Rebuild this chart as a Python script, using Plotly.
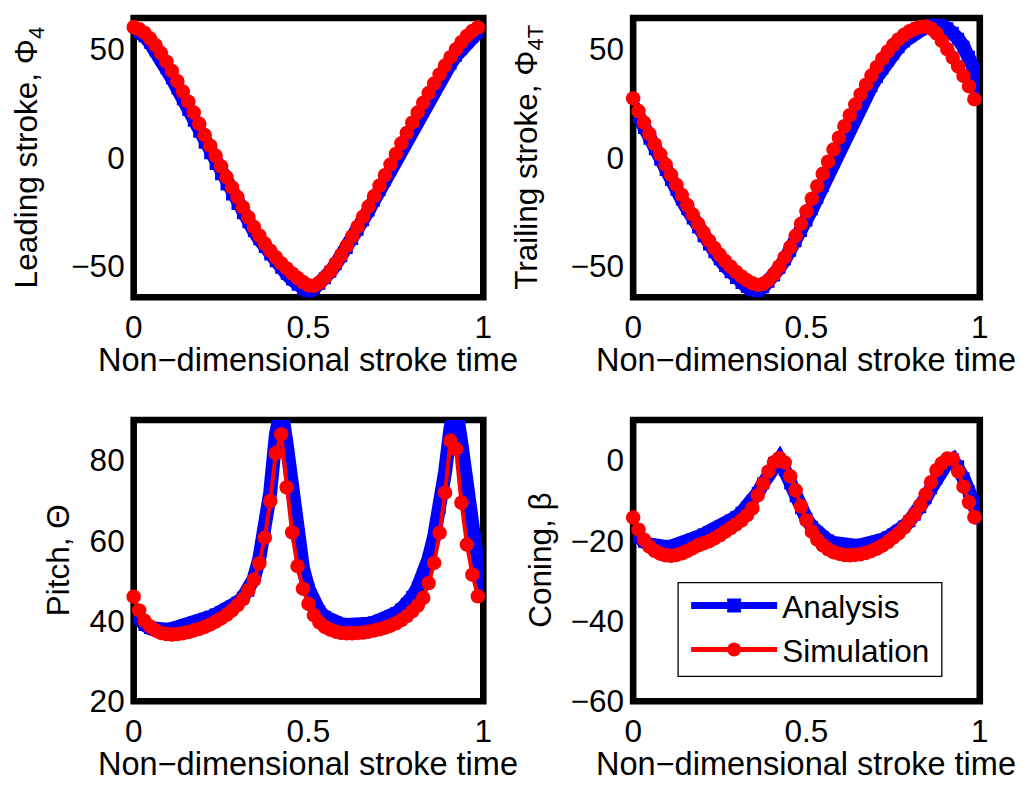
import plotly.graph_objects as go

# ---------------- data ----------------
T_ANA = [0.0000, 0.0156, 0.0313, 0.0469, 0.0625, 0.0781, 0.0938, 0.1094, 0.1250, 0.1406,
         0.1563, 0.1719, 0.1875, 0.2031, 0.2188, 0.2344, 0.2500, 0.2656, 0.2813, 0.2969,
         0.3125, 0.3281, 0.3438, 0.3594, 0.3750, 0.3906, 0.4063, 0.4219, 0.4375, 0.4531,
         0.4688, 0.4844, 0.5000, 0.5156, 0.5313, 0.5469, 0.5625, 0.5781, 0.5938, 0.6094,
         0.6250, 0.6406, 0.6563, 0.6719, 0.6875, 0.7031, 0.7188, 0.7344, 0.7500, 0.7656,
         0.7813, 0.7969, 0.8125, 0.8281, 0.8438, 0.8594, 0.8750, 0.8906, 0.9063, 0.9219,
         0.9375, 0.9531, 0.9688, 0.9844, 1.0000]
T_SIM = T_ANA[:64]

LEAD_ANA = [59.5, 58.2, 56.0, 53.0, 49.5, 45.6, 41.3, 36.7, 31.9, 27.0,
            22.0, 17.0, 11.9, 6.9, 2.0, -2.9, -7.7, -12.4, -17.0, -21.4,
            -25.7, -29.9, -33.9, -37.7, -41.3, -44.7, -47.9, -50.9, -53.7, -56.3,
            -58.7, -60.8, -62.3, -60.5, -58.3, -55.7, -52.7, -49.3, -45.6, -41.7,
            -37.6, -33.3, -28.9, -24.4, -19.8, -15.1, -10.3, -5.5, -0.7, 4.1,
            8.9, 13.6, 18.2, 22.7, 27.1, 31.4, 35.6, 39.6, 43.4, 47.0,
            50.3, 53.3, 55.9, 58.0, 59.6]
LEAD_SIM = [60.3, 59.3, 57.6, 55.0, 51.9, 48.3, 44.3, 40.0, 35.3, 30.5,
            25.8, 20.8, 15.6, 10.4, 5.5, 0.8, -4.0, -9.0, -13.8, -18.2,
            -22.9, -27.6, -32.0, -36.0, -39.7, -43.0, -46.0, -48.8, -51.2, -53.5,
            -55.6, -57.5, -59.0, -59.3, -57.8, -55.4, -52.4, -48.9, -45.0, -40.8,
            -36.4, -31.9, -27.3, -22.6, -17.8, -13.0, -8.1, -3.2, 1.7, 6.6,
            11.4, 16.1, 20.8, 25.3, 29.8, 34.2, 38.4, 42.5, 46.4, 50.0,
            53.3, 56.2, 58.5, 60.1]

TRAIL_ANA = [24.0, 18.8, 13.7, 8.7, 3.8, -1.0, -5.7, -10.3, -14.9, -19.4,
             -23.8, -28.1, -32.3, -36.3, -40.1, -43.7, -47.0, -50.1, -53.0, -55.6,
             -57.9, -59.8, -61.1, -61.7, -59.9, -57.4, -54.4, -50.9, -47.1, -43.0,
             -38.6, -33.9, -29.0, -23.9, -18.6, -13.2, -7.7, -2.2, 3.3, 8.7,
             13.9, 19.0, 23.9, 28.6, 33.0, 37.2, 41.1, 44.7, 48.0, 51.0,
             53.6, 55.8, 57.7, 59.2, 60.3, 61.0, 61.3, 60.9, 59.7, 57.7,
             54.9, 51.2, 46.6, 40.5, 32.0]
TRAIL_SIM = [27.3, 21.5, 16.2, 11.0, 6.2, 1.5, -3.3, -8.0, -12.6, -17.3,
             -21.9, -26.3, -30.6, -34.6, -38.4, -41.8, -44.9, -47.8, -50.4, -52.8,
             -54.9, -56.7, -58.0, -58.8, -58.3, -56.6, -53.8, -50.2, -46.0, -41.3,
             -36.1, -30.6, -24.8, -19.0, -13.2, -7.5, -1.9, 3.7, 9.2, 14.5,
             19.6, 24.5, 29.2, 33.7, 37.9, 41.9, 45.6, 49.0, 52.0, 54.6,
             56.7, 58.3, 59.5, 60.3, 60.5, 59.6, 57.4, 53.9, 50.1, 46.2,
             42.1, 37.8, 33.0, 27.0]

PITCH_ANA = [42.5, 40.5, 39.0, 38.2, 37.8, 37.7, 37.8, 38.0, 38.3, 38.7,
             39.1, 39.5, 40.0, 40.5, 41.0, 41.6, 42.2, 42.9, 43.7, 44.6,
             45.8, 47.5, 50.5, 55.5, 62.0, 72.0, 86.0, 93.0, 84.0, 72.0,
             61.0, 53.0, 48.0, 44.5, 42.3, 41.0, 40.2, 39.6, 39.2, 39.0,
             38.9, 39.0, 39.1, 39.3, 39.6, 40.0, 40.5, 41.1, 41.9, 42.9,
             44.2, 46.0, 48.3, 51.5, 55.5, 61.0, 68.0, 77.0, 88.0, 93.0,
             84.0, 72.0, 61.0, 54.0, 48.0]
PITCH_SIM = [46.0, 42.6, 40.0, 38.6, 37.6, 37.0, 36.7, 36.6, 36.7, 36.9,
             37.2, 37.6, 38.0, 38.5, 39.1, 39.8, 40.6, 41.5, 42.6, 43.9,
             45.4, 47.6, 50.2, 54.3, 60.7, 69.8, 81.7, 86.4, 73.2, 62.0,
             53.6, 48.0, 44.2, 41.4, 39.6, 38.5, 37.8, 37.3, 37.0, 36.9,
             36.9, 37.0, 37.1, 37.3, 37.6, 37.9, 38.3, 38.8, 39.4, 40.2,
             41.2, 42.4, 43.8, 45.7, 49.4, 54.4, 61.9, 71.9, 84.8, 82.8,
             69.4, 59.0, 51.5, 46.1]

CONING_ANA = [-17.5, -19.2, -20.3, -21.0, -21.4, -21.6, -21.6, -21.5, -21.2, -20.8,
              -20.3, -19.7, -19.1, -18.5, -17.9, -17.3, -16.6, -15.9, -15.1, -14.2,
              -13.1, -11.8, -10.2, -8.2, -5.8, -3.2, -0.8, 0.2, -2.5, -5.8,
              -9.0, -12.0, -14.6, -16.6, -18.1, -19.2, -20.0, -20.6, -21.0, -21.2,
              -21.3, -21.3, -21.2, -21.0, -20.7, -20.3, -19.8, -19.2, -18.5, -17.6,
              -16.5, -15.2, -13.6, -11.7, -9.5, -7.0, -4.5, -2.2, -0.6, 0.2,
              -1.5, -4.5, -7.8, -11.2, -14.5]
CONING_SIM = [-14.3, -17.3, -19.8, -21.5, -22.6, -23.3, -23.7, -23.8, -23.6, -23.2,
              -22.6, -21.9, -21.2, -20.7, -20.2, -19.5, -18.7, -17.8, -16.9, -16.0,
              -15.0, -13.7, -12.0, -8.8, -5.9, -2.8, -0.5, 0.5, -0.6, -4.0,
              -7.5, -11.5, -15.0, -17.8, -19.8, -21.2, -22.2, -22.9, -23.3, -23.6,
              -23.7, -23.6, -23.4, -23.1, -22.6, -22.0, -21.3, -20.4, -19.3, -18.2,
              -16.8, -15.0, -13.5, -11.2, -8.5, -5.5, -2.5, -0.8, 0.4, 0.3,
              -2.8, -6.6, -10.5, -14.2]

X_TICKS = [0, 0.5, 1]
X_TICKTEXT = ["0", "0.5", "1"]
X_LABEL = "Non\u2212dimensional stroke time"
Y_LABELS = ["Leading stroke, \u03a6<sub>4</sub>", "Trailing stroke, \u03a6<sub>4T</sub>",
            "Pitch, \u0398", "Coning, \u03b2"]
Y_RANGES = [[-64.5, 64.5], [-64.5, 64.5], [20, 90], [-60, 10]]
Y_TICKS = [[-50, 0, 50], [-50, 0, 50], [20, 40, 60, 80], [-60, -40, -20, 0]]
LEGEND_NAMES = ["Analysis", "Simulation"]

PANELS = [(LEAD_ANA, LEAD_SIM), (TRAIL_ANA, TRAIL_SIM),
          (PITCH_ANA, PITCH_SIM), (CONING_ANA, CONING_SIM)]

# ---------------- layout geometry ----------------
# target positions are given in picture pixels; the photographed page shows
# the layout slightly scaled, so convert picture pixels to layout pixels.
W, H = 1027, 801
SX, OX = 0.9835, 8.2
SY, OY = 0.980, -1.0


def lx(px):
    return (px - OX) / SX


def ly(py):
    return (py - OY) / SY


def pxp(px):
    return lx(px) / W


def pyp(py):
    return 1 - ly(py) / H


FONT = "Liberation Sans, Arial, Helvetica, sans-serif"
FS = 31.5
FS_T = 32.5
BLUE = "#0000ff"
RED = "#ff0000"

XPIX = [(133, 483), (633, 980), (133, 483), (633, 980)]
YPIX = [(17, 297), (17, 297), (420, 702), (420, 702)]
XTITLE_Y = [360, 360, 765, 765]
YTITLE_X = [28, 528, 57, 539]

fig = go.Figure()
layout = dict(width=W, height=H, margin=dict(l=0, r=0, t=0, b=0),
              paper_bgcolor="white", plot_bgcolor="white",
              font=dict(family=FONT, size=FS, color="black"),
              showlegend=True)
shapes = []
annotations = []

for i, (ana, sim) in enumerate(PANELS):
    n = i + 1
    xa = "x" if n == 1 else f"x{n}"
    ya = "y" if n == 1 else f"y{n}"
    fig.add_trace(go.Scatter(x=T_ANA, y=ana, xaxis=xa, yaxis=ya, mode="lines+markers",
                             line=dict(color=BLUE, width=14),
                             marker=dict(symbol="square", size=12, color=BLUE, line=dict(width=0)),
                             showlegend=False, cliponaxis=True, hoverinfo="skip"))
    fig.add_trace(go.Scatter(x=T_SIM, y=sim, xaxis=xa, yaxis=ya, mode="lines+markers",
                             line=dict(color=RED, width=4),
                             marker=dict(symbol="circle", size=14.5, color=RED, line=dict(width=0)),
                             showlegend=False, cliponaxis=False, hoverinfo="skip"))
    x0, x1 = XPIX[i]
    y0, y1 = YPIX[i]
    kx = "xaxis" if n == 1 else f"xaxis{n}"
    ky = "yaxis" if n == 1 else f"yaxis{n}"
    layout[kx] = dict(domain=[pxp(x0), pxp(x1)], range=[0, 1], anchor=ya,
                      tickvals=X_TICKS, ticktext=X_TICKTEXT, showgrid=False, zeroline=False,
                      showline=False, ticks="", ticklabelstandoff=8,
                      tickfont=dict(size=FS, family=FONT, color="black"))
    layout[ky] = dict(domain=[pyp(y1), pyp(y0)], range=Y_RANGES[i], anchor=xa,
                      tickvals=Y_TICKS[i], showgrid=False, zeroline=False,
                      showline=False, ticks="", ticklabelstandoff=8,
                      tickfont=dict(size=FS, family=FONT, color="black"))
    shapes.append(dict(type="rect", xref=f"{xa} domain", yref=f"{ya} domain",
                       x0=0, x1=1, y0=0, y1=1, layer="below",
                       line=dict(color="black", width=6.6)))
    annotations.append(dict(text=X_LABEL, xref="paper", yref="paper",
                            x=pxp((x0 + x1) / 2), y=pyp(XTITLE_Y[i]),
                            xanchor="center", yanchor="middle", showarrow=False,
                            font=dict(size=FS_T, family=FONT, color="black")))
    annotations.append(dict(text=Y_LABELS[i], xref="paper", yref="paper",
                            x=pxp(YTITLE_X[i]), y=pyp((y0 + y1) / 2), textangle=-90,
                            xanchor="center", yanchor="middle", showarrow=False,
                            font=dict(size=FS, family=FONT, color="black")))

# legend-only traces (legend sits inside the coning panel)
fig.add_trace(go.Scatter(x=[None], y=[None], xaxis="x4", yaxis="y4", mode="lines+markers",
                         name=LEGEND_NAMES[0], line=dict(color=BLUE, width=7),
                         marker=dict(symbol="square", size=14, color=BLUE, line=dict(width=0))))
fig.add_trace(go.Scatter(x=[None], y=[None], xaxis="x4", yaxis="y4", mode="lines+markers",
                         name=LEGEND_NAMES[1], line=dict(color=RED, width=5),
                         marker=dict(symbol="circle", size=14, color=RED, line=dict(width=0))))

# legend frame
shapes.append(dict(type="rect", xref="paper", yref="paper",
                   x0=pxp(678), x1=pxp(942), y0=pyp(677), y1=pyp(583), layer="above",
                   fillcolor="white", line=dict(color="black", width=1.3)))

layout["shapes"] = shapes
layout["annotations"] = annotations
layout["legend"] = dict(x=(lx(694) - 8.1) / W, y=1 - (ly(609) - 30.5) / H,
                        xanchor="left", yanchor="top",
                        bgcolor="rgba(0,0,0,0)", borderwidth=0,
                        font=dict(size=FS, family=FONT, color="black"),
                        itemwidth=86, tracegroupgap=0)
fig.update_layout(**layout)
fig.write_html("out.html", config={"displayModeBar": False},
               post_script="document.body.style.margin='0px';document.body.style.overflow='hidden';")
